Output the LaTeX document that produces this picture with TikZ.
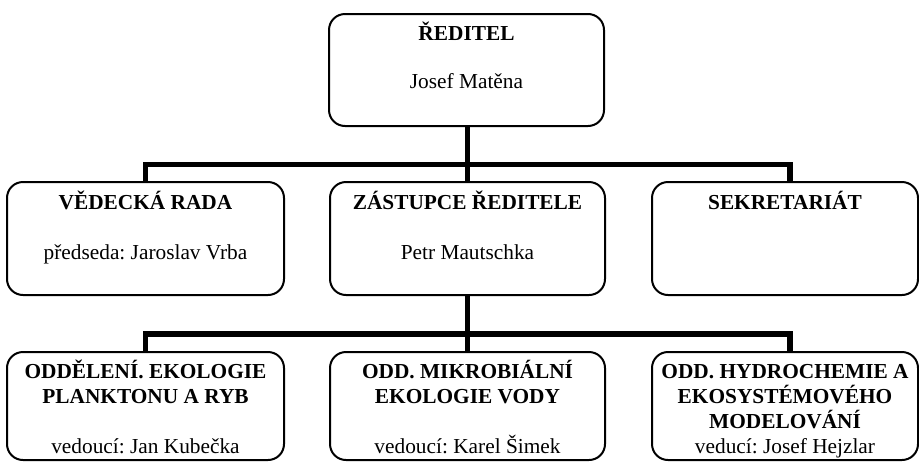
\documentclass[tikz,border=0pt]{standalone}
\usepackage{fontspec}
\setmainfont{Liberation Serif}
\frenchspacing
\begin{document}
\begin{tikzpicture}[x=0.75pt,y=-0.75pt,
  box/.style={draw=black,line width=1.5pt,rounded corners=12pt,inner sep=0pt},
  conn/.style={draw=black,line width=4pt,line cap=butt,line join=miter},
  hd/.style={font=\fontsize{16pt}{19pt}\selectfont\bfseries,anchor=base,inner sep=0pt},
  tx/.style={font=\fontsize{16pt}{19pt}\selectfont,anchor=base,inner sep=0pt}]
\useasboundingbox (0,0) rectangle (919,461);
% boxes
\node[box,minimum width=206.25pt,minimum height=84pt] (dir) at (466.5,70) {};
\node[box,minimum width=207.75pt,minimum height=84.75pt] (rada) at (145.5,238.5) {};
\node[box,minimum width=206.25pt,minimum height=84.75pt] (zast) at (467.5,238.5) {};
\node[box,minimum width=199.5pt,minimum height=84.75pt] (sek) at (785,238.5) {};
\node[box,minimum width=207.75pt,minimum height=81pt] (odd1) at (145.5,406) {};
\node[box,minimum width=206.25pt,minimum height=81pt] (odd2) at (467.5,406) {};
\node[box,minimum width=199.5pt,minimum height=81pt] (odd3) at (785,406) {};
% texts
\node[hd] (t1a) at (466.5,40) {ŘEDITEL};
\node[tx] (t1b) at (466.5,88) {Josef Matěna};
\node[hd] (t2a) at (145.5,209) {VĚDECKÁ RADA};
\node[tx] (t2b) at (145.5,259) {předseda: Jaroslav Vrba};
\node[hd] (t3a) at (467.5,209) {ZÁSTUPCE ŘEDITELE};
\node[tx] (t3b) at (467.5,259) {Petr Mautschka};
\node[hd] (t4a) at (785,209) {SEKRETARIÁT};
\node[hd] (t5a) at (145.5,378) {ODDĚLENÍ. EKOLOGIE};
\node[hd] (t5b) at (145.5,403) {PLANKTONU A RYB};
\node[tx] (t5c) at (145.5,453) {vedoucí: Jan Kubečka};
\node[hd] (t6a) at (467.5,378) {ODD. MIKROBIÁLNÍ};
\node[hd] (t6b) at (467.5,403) {EKOLOGIE VODY};
\node[tx] (t6c) at (467.5,453) {vedoucí: Karel Šimek};
\node[hd] (t7a) at (785,378) {ODD. HYDROCHEMIE A};
\node[hd] (t7b) at (785,403) {EKOSYSTÉMOVÉHO};
\node[hd] (t7c) at (785,428) {MODELOVÁNÍ};
\node[tx] (t7d) at (785,453) {veducí: Josef Hejzlar};
% connectors
\coordinate (bar1) at (467.5,164.5);
\coordinate (bar2) at (467.5,334);
\draw[conn] (dir.south -| zast.north) -- (zast.north);
\draw[conn] (rada.north) |- (bar1) -| ([xshift=3.75pt]sek.north);
\draw[conn] (zast.south) -- (odd2.north);
\draw[conn] (odd1.north) |- (bar2) -| ([xshift=3.75pt]odd3.north);
\end{tikzpicture}
\end{document}
